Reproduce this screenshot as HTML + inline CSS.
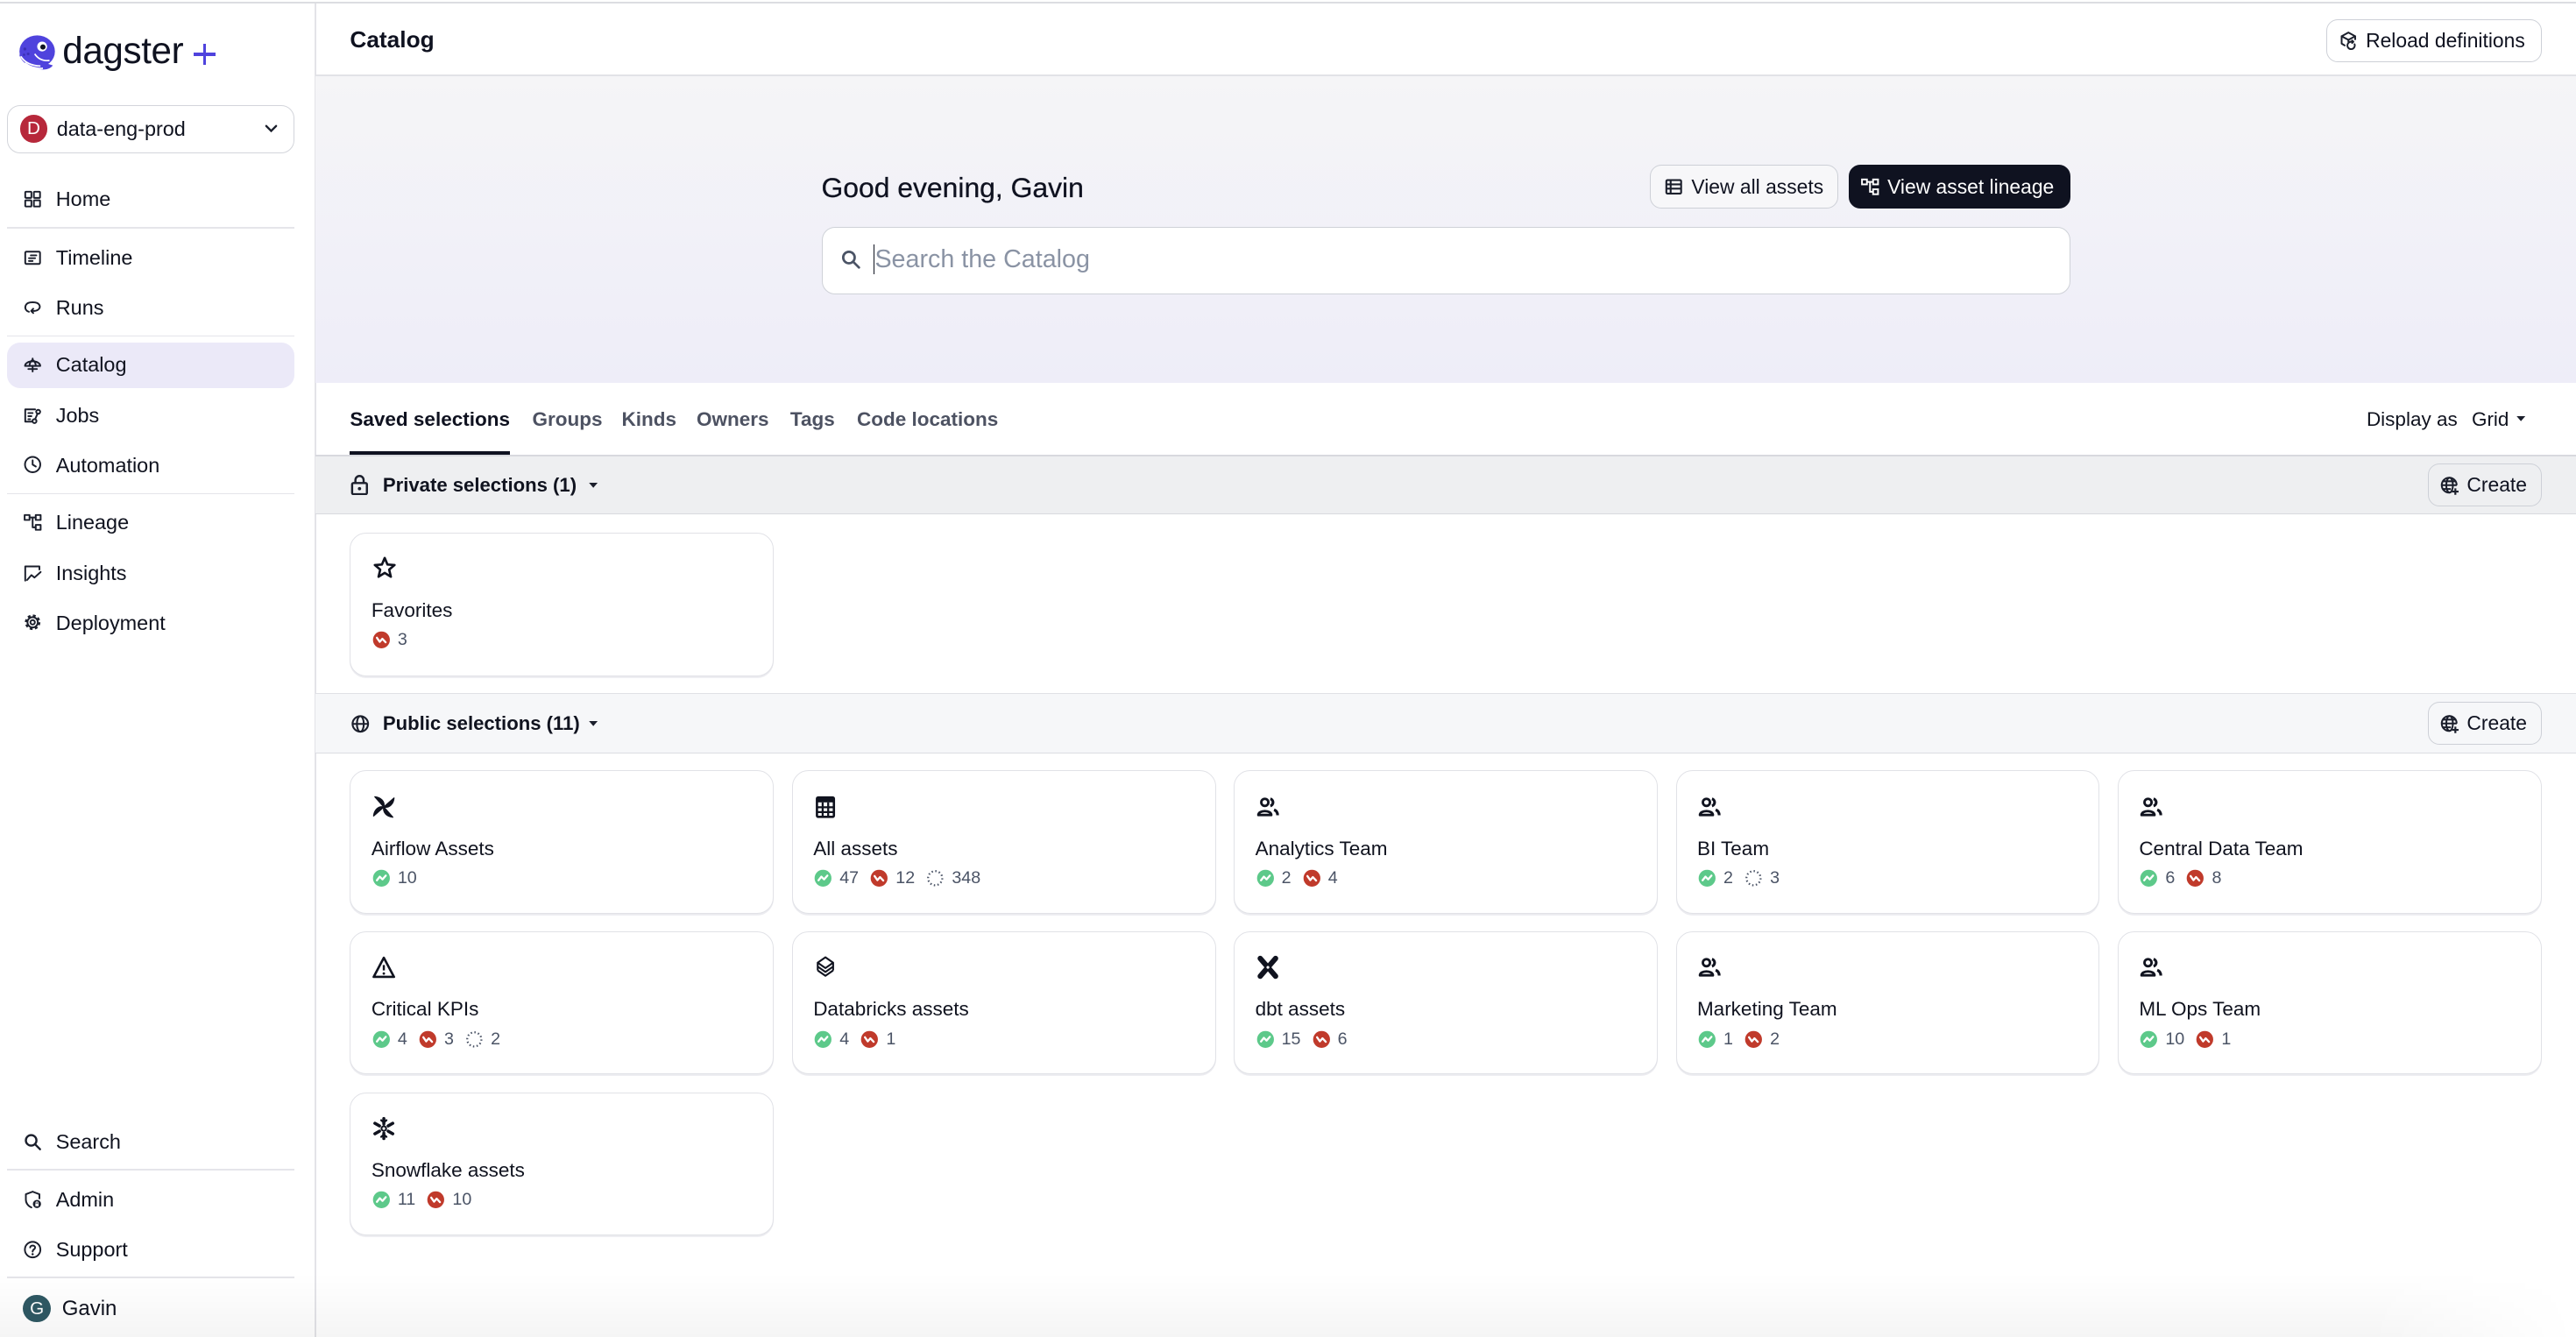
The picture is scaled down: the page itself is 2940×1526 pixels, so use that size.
<!DOCTYPE html>
<html><head><meta charset="utf-8">
<style>
html,body{margin:0;padding:0;width:2940px;height:1526px;overflow:hidden;background:#fff;}
#w{zoom:1.875;width:1568px;height:814px;position:relative;overflow:hidden;font-family:"Liberation Sans",Arial,sans-serif;color:#0f1220;background:#fff;}
.a{position:absolute;white-space:nowrap;}
.ni{position:absolute;left:14px;height:16px;display:flex;align-items:center;font-size:12.5px;line-height:16px;color:#10131f;}
.ni svg{width:12px;height:12px;margin-right:8px;flex:none;}
.dv{position:absolute;left:4px;width:175px;height:1px;background:#e5e5ea;}
.ic{fill:none;stroke:#1b1f2c;stroke-width:1.4;stroke-linecap:round;stroke-linejoin:round;}
.btn{position:absolute;box-sizing:border-box;border:1px solid #cdd0d7;border-radius:7px;font-size:12.2px;display:flex;align-items:center;}
.btn svg{width:12px;height:12px;flex:none;}
.tab{position:absolute;top:247.5px;font-size:12px;font-weight:bold;line-height:16px;color:#4d5262;}
.card{position:absolute;width:258px;height:87px;box-sizing:border-box;border:1px solid #e1e2e7;border-radius:10px;background:#fff;box-shadow:0 1px 0 #ececf0;}
.ci{position:absolute;left:12.5px;top:14px;width:15px;height:15px;}
.cn{position:absolute;left:12.5px;top:39px;font-size:12px;line-height:16px;color:#10131f;white-space:nowrap;}
.cc{position:absolute;left:13px;top:59px;height:12px;display:flex;align-items:center;font-size:10.5px;color:#4b5466;white-space:nowrap;}
.cc svg{width:11px;height:11px;margin-right:4.5px;flex:none;}
.cc span{margin-right:7px;}
.sh{position:absolute;left:192px;width:1376px;height:35.5px;box-sizing:border-box;}
</style></head><body>
<svg width="0" height="0" style="position:absolute">
<defs>
<symbol id="ok" viewBox="0 0 12 12"><circle cx="6" cy="6" r="5.6" fill="#5dc98a"/><path d="M3 7.4 L4.9 5 L6.7 6.8 L8.9 4.3" fill="none" stroke="#fff" stroke-width="1.35" stroke-linejoin="round" stroke-linecap="round"/></symbol>
<symbol id="bad" viewBox="0 0 12 12"><circle cx="6" cy="6" r="5.6" fill="#c03a2b"/><path d="M3 4.6 L4.9 7.3 L6.6 5.3 L8.8 7.6" fill="none" stroke="#fff" stroke-width="1.35" stroke-linejoin="round" stroke-linecap="round"/></symbol>
<symbol id="miss" viewBox="0 0 12 12"><circle cx="6" cy="6" r="4.7" fill="none" stroke="#4b5466" stroke-width="1.3" stroke-dasharray="0.9 1.55"/></symbol>
<symbol id="people" viewBox="0 0 16 16"><circle cx="6" cy="5" r="2.3" fill="none" stroke="#10131f" stroke-width="1.6"/><path d="M1.8 13.2 C1.8 9.8 10.2 9.8 10.2 13.2 Z" fill="none" stroke="#10131f" stroke-width="1.6" stroke-linejoin="round"/><path d="M9.6 2.7 A2.4 2.4 0 0 1 9.6 7.3" fill="none" stroke="#10131f" stroke-width="1.8"/><path d="M12 9.8 C13.6 10.4 14.3 11.6 14.3 13.4" fill="none" stroke="#10131f" stroke-width="1.8"/></symbol>
<symbol id="globeplus" viewBox="0 0 16 16"><g fill="none" stroke="#1b1f2c" stroke-width="1.4"><path d="M13.5 8 A5.8 5.8 0 1 0 8 13.8"/><ellipse cx="8" cy="8" rx="2.6" ry="5.8"/><path d="M2.2 8 H13.6 M3 5 H13 M3 11 H9"/><path d="M12.5 10.5 V15.5 M10 13 H15" stroke-width="1.5"/></g></symbol>
<symbol id="caret" viewBox="0 0 6 4"><path d="M0 0 H6 L3 3.5 Z" fill="#1b1f2c"/></symbol>
<symbol id="blade" viewBox="0 0 16 16"><path d="M8 8 L2.2 1.6 C5.5 1.8 8.6 4 8 8 Z" fill="#10131f" stroke="#10131f" stroke-width="0.8" stroke-linejoin="round"/></symbol>
</defs></svg>

<div id="w">
<div class="a" style="left:0;top:1.3px;width:1568px;height:1px;background:#dcdde1"></div>

<div class="a" style="left:191.5px;top:2px;width:1px;height:812px;background:#e3e3e8"></div>

<svg class="a" style="left:10px;top:21px;width:24px;height:23px" viewBox="0 0 24 23">
  <ellipse cx="12.5" cy="10.5" rx="10.8" ry="9.8" fill="#4f43dd"/>
  <path d="M1.6 12.5 C3 17 8 21 16 21.5 C19 21.6 21 20.5 22 19" fill="#4f43dd"/>
  <path d="M2.5 13.5 C5 17.5 9 19.2 14.5 19.4" fill="none" stroke="#fff" stroke-width="1"/>
  <path d="M5 17.5 C8 20 11.5 21 16 20.8" fill="none" stroke="#fff" stroke-width="0.9"/>
  <path d="M11 12 C13 15 16 16.5 20 16" fill="none" stroke="#fff" stroke-width="0.9"/>
  <circle cx="15.5" cy="7.5" r="3" fill="#fff"/><circle cx="16" cy="7.8" r="1.6" fill="#10131f"/>
  <circle cx="5" cy="9" r="0.9" fill="#3a2fb5"/><circle cx="7" cy="12" r="0.8" fill="#3a2fb5"/><circle cx="4.5" cy="12.5" r="0.7" fill="#3a2fb5"/>
</svg>
<div class="a" style="left:38px;top:18px;font-size:22.5px;line-height:26px;color:#0f1220;letter-spacing:-0.2px">dagster</div>
<div class="a" style="left:118px;top:32px;width:13px;height:2px;background:#4f43dd"></div>
<div class="a" style="left:123.5px;top:26.5px;width:2px;height:13px;background:#4f43dd"></div>

<div class="a" style="left:4px;top:64px;width:175px;height:29.5px;box-sizing:border-box;border:1px solid #d3d5db;border-radius:8px;"></div>
<div class="a" style="left:12px;top:69.8px;width:17px;height:17px;border-radius:50%;background:#b7283b;color:#fff;font-size:11px;line-height:17px;text-align:center">D</div>
<div class="a" style="left:34.5px;top:70.5px;font-size:12.5px;line-height:16px;color:#10131f">data-eng-prod</div>
<svg class="a" style="left:161px;top:75px;width:8px;height:6px" viewBox="0 0 8 6"><path d="M1 1.5 L4 4.5 L7 1.5" fill="none" stroke="#1b1f2c" stroke-width="1.3" stroke-linecap="round"/></svg>

<div class="ni" style="top:113px"><svg viewBox="0 0 16 16"><g class="ic"><rect x="2" y="2" width="5" height="5" rx="0.6"/><rect x="9" y="2" width="5" height="5" rx="0.6"/><rect x="2" y="9" width="5" height="5" rx="0.6"/><rect x="9" y="9" width="5" height="5" rx="0.6"/></g></svg>Home</div>
<div class="dv" style="top:138px"></div>
<div class="ni" style="top:149px"><svg viewBox="0 0 16 16"><g class="ic"><rect x="2" y="3" width="12" height="10" rx="1"/><path d="M6.5 6 H11 M5 8.3 H10 M5 10.6 H8"/></g></svg>Timeline</div>
<div class="ni" style="top:179px"><svg viewBox="0 0 16 16"><g class="ic"><path d="M5 12 C2 11 1.5 8.5 2.5 6.5 C4 3.5 12 3.5 13.5 6.5 C14.5 8.5 13 11 9.5 11.3 H7"/><path d="M8.5 9.5 L6.8 11.3 L8.5 13"/></g></svg>Runs</div>
<div class="dv" style="top:204px"></div>
<div class="a" style="left:4px;top:208.5px;width:175px;height:28px;border-radius:8px;background:#ebe9f8"></div>
<div class="ni" style="top:214px"><svg viewBox="0 0 16 16"><g class="ic"><path d="M1.8 9 C2 4 14 4 14.2 9 Z"/><path d="M5.5 9 C5.5 6 7 4.5 8 4.2 C9 4.5 10.5 6 10.5 9"/><path d="M8 3 V4.2 M8 9 V13.5 M4.5 11.5 H11.5"/></g></svg>Catalog</div>
<div class="ni" style="top:245px"><svg viewBox="0 0 16 16"><g class="ic"><path d="M10 3 H2 V13 H7"/><path d="M4.5 6 H8 M4.5 8.5 H7 M4.5 11 H6"/><circle cx="12.5" cy="5" r="1.6"/><circle cx="9.5" cy="12.5" r="1.6"/><path d="M12 6.5 L10 11"/></g></svg>Jobs</div>
<div class="ni" style="top:275px"><svg viewBox="0 0 16 16"><g class="ic"><circle cx="8" cy="8" r="6.2"/><path d="M8 4.5 V8 L10.6 9.6"/></g></svg>Automation</div>
<div class="dv" style="top:300px"></div>
<div class="ni" style="top:310px"><svg viewBox="0 0 16 16"><g class="ic"><rect x="1.5" y="2" width="4" height="4"/><rect x="10.5" y="2" width="4" height="4"/><rect x="10.5" y="10" width="4" height="4"/><path d="M5.5 4 H10.5 M8 4 V12 H10.5"/></g></svg>Lineage</div>
<div class="ni" style="top:341px"><svg viewBox="0 0 16 16"><g class="ic"><path d="M2 14 V2.5 H13.5 V5"/><path d="M3.5 13.5 L7 9.5 L9.5 11.5 L14.5 7"/></g></svg>Insights</div>
<div class="ni" style="top:371px"><svg viewBox="0 0 16 16"><g class="ic"><circle cx="8" cy="8" r="5" stroke-width="2.6" stroke-dasharray="2.1 1.83" stroke-linecap="butt"/><circle cx="8" cy="8" r="4.2"/><circle cx="8" cy="8" r="1.8"/></g></svg>Deployment</div>

<div class="ni" style="top:687px"><svg viewBox="0 0 16 16"><g class="ic" style="stroke-width:1.7"><circle cx="6.8" cy="6.8" r="4.3"/><path d="M10 10 L14 14"/></g></svg>Search</div>
<div class="dv" style="top:711.5px"></div>
<div class="ni" style="top:722px"><svg viewBox="0 0 16 16"><g class="ic"><path d="M8 1.5 L13.5 3.6 V7 M7 14.3 C4.3 13.2 2.5 10.8 2.5 8 V3.6 L8 1.5"/></g><circle cx="11.5" cy="11.5" r="3.3" fill="#1b1f2c"/><rect x="10.2" y="11.3" width="2.6" height="2" fill="#fff"/><path d="M10.7 11.3 V10.6 A0.8 0.8 0 0 1 12.3 10.6 V11.3" fill="none" stroke="#fff" stroke-width="0.7"/></svg>Admin</div>
<div class="ni" style="top:752.5px"><svg viewBox="0 0 16 16"><g class="ic"><circle cx="8" cy="8" r="6.3"/><path d="M6 6.3 C6 4.2 10 4.2 10 6.3 C10 7.8 8 7.8 8 9.6"/></g><circle cx="8" cy="11.7" r="0.9" fill="#1b1f2c"/></svg>Support</div>
<div class="dv" style="top:777px"></div>
<div class="a" style="left:14px;top:788px;width:17px;height:17px;border-radius:50%;background:#2f5964;color:#fff;font-size:11px;line-height:17px;text-align:center">G</div>
<div class="a" style="left:37.7px;top:789px;font-size:12.8px;line-height:16px;color:#10131f">Gavin</div>

<div class="a" style="left:213px;top:16px;font-size:14px;font-weight:bold;line-height:16px">Catalog</div>
<div class="btn" style="left:1416px;top:11.6px;width:131px;height:26px;padding-left:7px">
<svg viewBox="0 0 16 16" style="margin-right:4.5px"><g class="ic"><path d="M8 1.5 L13.5 4.5 L8 7.5 L2.5 4.5 Z"/><path d="M2.5 4.5 V10.5 L5 12"/><path d="M13.5 4.5 V7"/><path d="M8 7.5 V9"/><path d="M13 11 A3 3 0 1 1 10 9 H12"/><path d="M11 8 L12 9 L11 10"/></g></svg>Reload definitions</div>
<div class="a" style="left:192px;top:45.5px;width:1376px;height:1px;background:#e2e3e7"></div>

<div class="a" style="left:192px;top:46.5px;width:1376px;height:186.5px;background:linear-gradient(#f5f5f7,#eeedf8)"></div>
<div class="a" style="left:500px;top:104.5px;font-size:17px;line-height:20px;color:#0f1220;-webkit-text-stroke:0.15px #0f1220">Good evening, Gavin</div>
<div class="btn" style="left:1004.5px;top:100.5px;width:114.5px;height:26.5px;padding-left:7.5px;background:#f7f7f9">
<svg viewBox="0 0 16 16" style="margin-right:5px"><rect x="2" y="2.5" width="12" height="11" rx="1" fill="none" stroke="#1b1f2c" stroke-width="1.5"/><path d="M2 6 H14 M2 9.5 H14 M5.5 2.5 V13.5" stroke="#1b1f2c" stroke-width="1.5"/></svg>View all assets</div>
<div class="btn" style="left:1125.3px;top:100.5px;width:135.2px;height:26.5px;padding-left:6.5px;background:#0f1220;border-color:#0f1220;color:#fff">
<svg viewBox="0 0 16 16" style="margin-right:4.5px"><g fill="none" stroke="#fff" stroke-width="1.4"><rect x="1.5" y="2" width="4" height="4"/><rect x="10.5" y="2" width="4" height="4"/><rect x="10.5" y="10" width="4" height="4"/><path d="M5.5 4 H10.5 M8 4 V12 H10.5"/></g></svg>View asset lineage</div>
<div class="a" style="left:500px;top:138px;width:760.5px;height:41px;box-sizing:border-box;background:#fff;border:1px solid #cfd2d8;border-radius:8px"></div>
<svg class="a" style="left:511.5px;top:151.5px;width:13px;height:13px" viewBox="0 0 16 16"><g fill="none" stroke="#4b5466" stroke-width="1.8" stroke-linecap="round"><circle cx="6.5" cy="6.5" r="4.3"/><path d="M9.8 9.8 L14 14"/></g></svg>
<div class="a" style="left:531.5px;top:149px;width:1px;height:18px;background:#0f1220"></div>
<div class="a" style="left:532.5px;top:148.5px;font-size:15.3px;line-height:20px;color:#8a93a4">Search the Catalog</div>

<div class="tab" style="left:213px;color:#0f1220">Saved selections</div>
<div class="tab" style="left:324px">Groups</div>
<div class="tab" style="left:378.4px">Kinds</div>
<div class="tab" style="left:424px">Owners</div>
<div class="tab" style="left:481px">Tags</div>
<div class="tab" style="left:521.6px">Code locations</div>
<div class="a" style="left:1440.5px;top:247.5px;font-size:12px;line-height:16px;color:#10131f">Display as</div>
<div class="a" style="left:1504.5px;top:247.5px;font-size:12px;line-height:16px;color:#10131f">Grid</div>
<svg class="a" style="left:1531.5px;top:253.5px;width:5.5px;height:3.5px"><use href="#caret"/></svg>
<div class="a" style="left:192px;top:276.8px;width:1376px;height:1px;background:#d8d9de"></div>
<div class="a" style="left:212.8px;top:274.5px;width:97.6px;height:2.5px;background:#0f1220"></div>

<div class="sh" style="top:277.8px;background:#eeeff1;border-bottom:1px solid #d8d9de;height:35.5px"></div>
<svg class="a" style="left:213.5px;top:288.5px;width:11px;height:13px" viewBox="0 0 11 13"><g fill="none" stroke="#1b1f2c" stroke-width="1.3"><rect x="1" y="5.5" width="9" height="6.8" rx="0.8"/><path d="M3 5.5 V3.7 A2.5 2.5 0 0 1 8 3.7 V5.5"/></g><circle cx="5.5" cy="8.9" r="1" fill="#1b1f2c"/></svg>
<div class="a" style="left:233px;top:287.5px;font-size:11.8px;font-weight:bold;line-height:16px;color:#10131f">Private selections (1)</div>
<svg class="a" style="left:358.5px;top:294px;width:5.5px;height:3.5px"><use href="#caret"/></svg>
<div class="btn" style="left:1478px;top:282px;width:69.2px;height:26.5px;padding-left:6.5px"><svg style="margin-right:4px;width:12.5px;height:12.5px"><use href="#globeplus"/></svg>Create</div>

<div class="card" style="left:213px;top:324px;height:87.5px">
<svg class="ci" viewBox="0 0 16 16" style="left:13px;top:13.5px"><path d="M8 1.6 L9.8 5.9 L14.4 6.2 L10.9 9.2 L12 13.8 L8 11.3 L4 13.8 L5.1 9.2 L1.6 6.2 L6.2 5.9 Z" fill="none" stroke="#10131f" stroke-width="1.5" stroke-linejoin="round"/></svg>
<div class="cn">Favorites</div>
<div class="cc"><svg><use href="#bad"/></svg><span>3</span></div>
</div>

<div class="sh" style="top:422px;background:#f6f7f9;border-top:1px solid #e0e1e5;border-bottom:1px solid #dcdde2;height:36.5px"></div>
<svg class="a" style="left:213.5px;top:434.5px;width:12px;height:12px" viewBox="0 0 16 16"><g fill="none" stroke="#1b1f2c" stroke-width="1.5"><circle cx="8" cy="8" r="6.3"/><ellipse cx="8" cy="8" rx="2.8" ry="6.3"/><path d="M1.7 8 H14.3"/></g></svg>
<div class="a" style="left:233px;top:432.5px;font-size:11.8px;font-weight:bold;line-height:16px;color:#10131f">Public selections (11)</div>
<svg class="a" style="left:358.5px;top:439px;width:5.5px;height:3.5px"><use href="#caret"/></svg>
<div class="btn" style="left:1478px;top:427px;width:69.2px;height:26.5px;padding-left:6.5px"><svg style="margin-right:4px;width:12.5px;height:12.5px"><use href="#globeplus"/></svg>Create</div>

<div class="card" style="left:213px;top:469px">
<svg class="ci" viewBox="0 0 16 16"><g fill="#10131f" stroke="#10131f" stroke-width="0.8" stroke-linejoin="round"><path d="M8 8 L2.2 1.4 C5.8 1.8 8.8 4.2 8 8 Z"/><path d="M8 8 L2.2 1.4 C5.8 1.8 8.8 4.2 8 8 Z" transform="rotate(90 8 8)"/><path d="M8 8 L2.2 1.4 C5.8 1.8 8.8 4.2 8 8 Z" transform="rotate(180 8 8)"/><path d="M8 8 L2.2 1.4 C5.8 1.8 8.8 4.2 8 8 Z" transform="rotate(270 8 8)"/></g></svg>
<div class="cn">Airflow Assets</div>
<div class="cc"><svg><use href="#ok"/></svg><span>10</span></div>
</div>
<div class="card" style="left:482px;top:469px">
<svg class="ci" viewBox="0 0 16 16"><rect x="2.5" y="1.8" width="11" height="12.6" rx="0.8" fill="none" stroke="#10131f" stroke-width="1.5"/><rect x="2.5" y="1.8" width="11" height="3.2" fill="#10131f"/><path d="M2.5 8.2 H13.5 M2.5 11.3 H13.5 M6.2 5 V14.4 M9.8 5 V14.4" stroke="#10131f" stroke-width="1.3"/></svg>
<div class="cn">All assets</div>
<div class="cc"><svg><use href="#ok"/></svg><span>47</span><svg><use href="#bad"/></svg><span>12</span><svg><use href="#miss"/></svg><span>348</span></div>
</div>
<div class="card" style="left:751px;top:469px">
<svg class="ci"><use href="#people"/></svg>
<div class="cn">Analytics Team</div>
<div class="cc"><svg><use href="#ok"/></svg><span>2</span><svg><use href="#bad"/></svg><span>4</span></div>
</div>
<div class="card" style="left:1020px;top:469px">
<svg class="ci"><use href="#people"/></svg>
<div class="cn">BI Team</div>
<div class="cc"><svg><use href="#ok"/></svg><span>2</span><svg><use href="#miss"/></svg><span>3</span></div>
</div>
<div class="card" style="left:1289px;top:469px">
<svg class="ci"><use href="#people"/></svg>
<div class="cn">Central Data Team</div>
<div class="cc"><svg><use href="#ok"/></svg><span>6</span><svg><use href="#bad"/></svg><span>8</span></div>
</div>

<div class="card" style="left:213px;top:567px">
<svg class="ci" viewBox="0 0 16 16"><path d="M8 1.8 L14.6 14.2 H1.4 Z" fill="none" stroke="#10131f" stroke-width="1.5" stroke-linejoin="round"/><path d="M8 6.5 V10" stroke="#10131f" stroke-width="1.4"/><circle cx="8" cy="12" r="0.8" fill="#10131f"/></svg>
<div class="cn">Critical KPIs</div>
<div class="cc"><svg><use href="#ok"/></svg><span>4</span><svg><use href="#bad"/></svg><span>3</span><svg><use href="#miss"/></svg><span>2</span></div>
</div>
<div class="card" style="left:482px;top:567px">
<svg class="ci" viewBox="0 0 16 16"><g fill="none" stroke="#10131f" stroke-width="1.2" stroke-linejoin="round"><path d="M8 1.5 L13 5 L8 8.5 L3 5 Z"/><path d="M3 7.5 L8 11 L13 7.5"/><path d="M3 10 L8 13.5 L13 10"/><path d="M3 5 V10 M13 5 V10"/></g></svg>
<div class="cn">Databricks assets</div>
<div class="cc"><svg><use href="#ok"/></svg><span>4</span><svg><use href="#bad"/></svg><span>1</span></div>
</div>
<div class="card" style="left:751px;top:567px">
<svg class="ci" viewBox="0 0 16 16"><path d="M3 2.2 L13 13.8 M13 2.2 L3 13.8" stroke="#10131f" stroke-width="3.4" stroke-linecap="round"/><circle cx="8" cy="8" r="0.9" fill="#fff"/></svg>
<div class="cn">dbt assets</div>
<div class="cc"><svg><use href="#ok"/></svg><span>15</span><svg><use href="#bad"/></svg><span>6</span></div>
</div>
<div class="card" style="left:1020px;top:567px">
<svg class="ci"><use href="#people"/></svg>
<div class="cn">Marketing Team</div>
<div class="cc"><svg><use href="#ok"/></svg><span>1</span><svg><use href="#bad"/></svg><span>2</span></div>
</div>
<div class="card" style="left:1289px;top:567px">
<svg class="ci"><use href="#people"/></svg>
<div class="cn">ML Ops Team</div>
<div class="cc"><svg><use href="#ok"/></svg><span>10</span><svg><use href="#bad"/></svg><span>1</span></div>
</div>

<div class="card" style="left:213px;top:665px">
<svg class="ci" viewBox="0 0 16 16"><g stroke="#10131f" stroke-width="2" stroke-linecap="round" fill="none"><path d="M8 1.5 V5 M8 11 V14.5 M2.2 4.6 L5.2 6.3 M10.8 9.7 L13.8 11.4 M2.2 11.4 L5.2 9.7 M10.8 6.3 L13.8 4.6"/><path d="M6.3 2.6 L8 4 L9.7 2.6 M6.3 13.4 L8 12 L9.7 13.4" stroke-width="1.3"/></g><circle cx="8" cy="8" r="1.5" fill="none" stroke="#10131f" stroke-width="1.2"/></svg>
<div class="cn">Snowflake assets</div>
<div class="cc"><svg><use href="#ok"/></svg><span>11</span><svg><use href="#bad"/></svg><span>10</span></div>
</div>

<div class="a" style="left:0;top:775px;width:1568px;height:39px;background:linear-gradient(rgba(0,0,0,0),rgba(0,0,0,0.04));-webkit-mask-image:linear-gradient(90deg,#000 92%,rgba(0,0,0,0) 100%)"></div>
</div>
</body></html>
